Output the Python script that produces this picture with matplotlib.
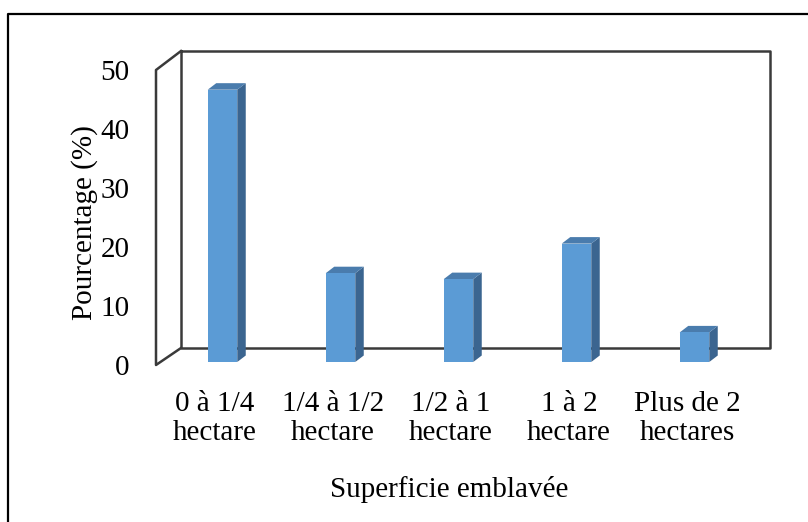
import matplotlib.pyplot as plt
from matplotlib.patches import Polygon

# données
categories = ['0 à 1/4\nhectare', '1/4 à 1/2\nhectare', '1/2 à 1\nhectare',
              '1 à 2\nhectare', 'Plus de 2\nhectares']
pourcentages = [46, 15, 14, 20, 5]
yticks = [0, 10, 20, 30, 40, 50]

W, H = 808, 522
FACE = '#5b9bd5'
SIDE = '#3b6590'
TOP = '#4a7cad'
WALL = '#3a3a3a'

plt.rcParams['font.family'] = ['Liberation Serif', 'DejaVu Serif']
plt.rcParams['font.size'] = 21

fig = plt.figure(figsize=(W / 100, H / 100), dpi=100)


def rect(left, top, right, bottom):
    # pixels -> fraction de figure
    return [left / W, 1 - bottom / H, (right - left) / W, (bottom - top) / H]


# fond : cadre et parois (en pixels)
bg = fig.add_axes([0, 0, 1, 1])
bg.set_xlim(0, W)
bg.set_ylim(H, 0)
bg.axis('off')
bg.plot([8, 8, W], [H, 14, 14], color='black', lw=1.6)
bg.plot([181, 181, 770, 770, 181], [51, 348, 348, 51, 51], color=WALL, lw=1.8)
bg.plot([181, 156, 156, 181], [51, 70, 365, 348], color=WALL, lw=1.8)

# axe avant : graduations et libellés
front = fig.add_axes(rect(156, 70, 746, 365))
front.patch.set_visible(False)
for s in front.spines.values():
    s.set_visible(False)
front.set_xlim(0, len(categories))
front.set_ylim(0, 50)
front.set_yticks(yticks)
front.set_xticks([i + 0.5 for i in range(len(categories))])
front.set_xticklabels(categories, linespacing=1.15)
front.tick_params(axis='y', length=0, pad=19)
front.tick_params(axis='x', length=0, pad=19)
front.set_ylabel('Pourcentage (%)')
front.yaxis.set_label_coords((98 - 156) / 590, 0.5 - 5 / 295)
front.set_xlabel('Superficie emblavée')
front.xaxis.set_label_coords(0.497, -(476 - 365) / 295)

# plan des barres
ax = fig.add_axes(rect(163.5, 66, 753.5, 362))
ax.patch.set_visible(False)
ax.axis('off')
ax.set_xlim(0, len(categories))
ax.set_ylim(0, 50)

width = 0.25
ddx = 8.5 / (590 / len(categories))
ddy = 6.5 / (296 / 50)
for i, val in enumerate(pourcentages):
    c = i + 0.5
    l, r = c - width / 2, c + width / 2
    ax.add_patch(Polygon([(r, 0), (r + ddx, ddy), (r + ddx, val + ddy), (r, val)],
                         closed=True, facecolor=SIDE, edgecolor='none'))
    ax.add_patch(Polygon([(l, val), (l + ddx, val + ddy), (r + ddx, val + ddy), (r, val)],
                         closed=True, facecolor=TOP, edgecolor='none'))
ax.bar([i + 0.5 for i in range(len(categories))], pourcentages, width=width,
       color=FACE, edgecolor='none')

fig.savefig('out.png', dpi=100)
